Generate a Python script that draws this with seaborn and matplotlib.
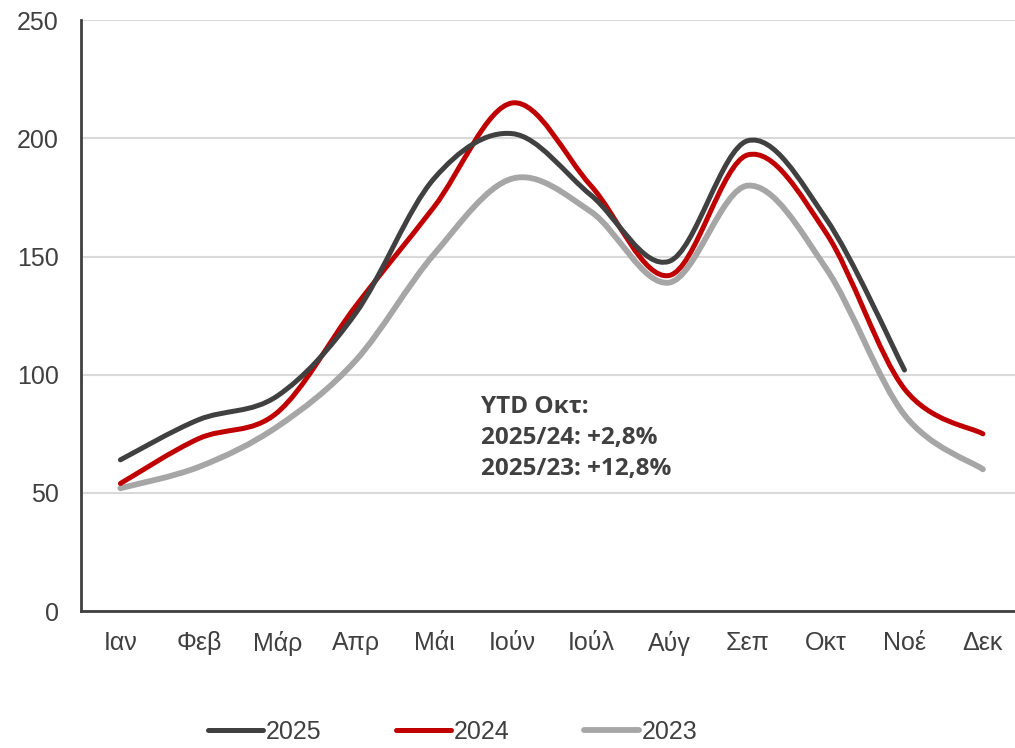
import numpy as np
import pandas as pd
import matplotlib
matplotlib.use("Agg")
import matplotlib.pyplot as plt
from matplotlib.path import Path
from matplotlib.patches import PathPatch
from matplotlib.lines import Line2D
import seaborn as sns

months = ["Ιαν", "Φεβ", "Μάρ", "Απρ", "Μάι", "Ιούν", "Ιούλ", "Αύγ", "Σεπ", "Οκτ", "Νοέ", "Δεκ"]
v2025 = [64, 81, 91, 126, 183, 202, 176, 148, 199, 166, 102]
v2024 = [54, 73, 84, 129, 171, 215, 180, 142, 193, 160, 94, 75]
v2023 = [52, 61, 78, 106, 151, 183, 169, 139, 180, 145, 83, 60]
years = ["2025", "2024", "2023"]
colors = {"2025": "#404040", "2024": "#C00000", "2023": "#A6A6A6"}
widths = {"2025": 3.6, "2024": 3.6, "2023": 4.2}
note = "YTD Οκτ:\n2025/24: +2,8%\n2025/23: +12,8%"

rows = []
for y, vals in zip(years, [v2025, v2024, v2023]):
    for m, v in zip(months, vals):
        rows.append({"year": y, "month": m, "value": v})
df = pd.DataFrame(rows)
df["pos"] = df["month"].map({m: i for i, m in enumerate(months)})

sns.set_theme(style="white")
plt.rcParams["font.family"] = ["Liberation Sans", "DejaVu Sans"]
txt = "#404040"

fig = plt.figure(figsize=(10.15, 7.48), dpi=100)
ax = fig.add_axes([0.08, 0.183, 0.927, 0.79])


def smooth_path(x, y):
    # excel-like smoothed line: cubic bezier through every point
    x = np.asarray(x, float)
    y = np.asarray(y, float)
    px = np.concatenate([[x[0]], x, [x[-1]]])
    py = np.concatenate([[y[0]], y, [y[-1]]])
    verts = [(x[0], y[0])]
    codes = [Path.MOVETO]
    for i in range(1, len(x)):
        c1 = (px[i] + (px[i + 1] - px[i - 1]) / 6, py[i] + (py[i + 1] - py[i - 1]) / 6)
        c2 = (px[i + 1] - (px[i + 2] - px[i]) / 6, py[i + 1] - (py[i + 2] - py[i]) / 6)
        verts += [c1, c2, (x[i], y[i])]
        codes += [Path.CURVE4] * 3
    return Path(verts, codes)


for y in ["2023", "2024", "2025"]:
    d = df[df["year"] == y]
    ax.add_patch(PathPatch(smooth_path(d["pos"], d["value"]), fill=False,
                           edgecolor=colors[y], lw=widths[y], capstyle="round",
                           joinstyle="round", zorder=3))

ax.set_xlim(-0.5, 11.5)
ax.set_ylim(0, 250)
ax.set_xticks(range(len(months)))
ax.set_xticklabels(months)
ax.set_yticks([0, 50, 100, 150, 200, 250])
ax.yaxis.grid(True, color="#d9d9d9", lw=1.5)
ax.set_axisbelow(True)
for s in ["top", "right"]:
    ax.spines[s].set_visible(False)
for s in ["left", "bottom"]:
    ax.spines[s].set_color(txt)
    ax.spines[s].set_linewidth(2)
ax.tick_params(axis="both", length=0, labelsize=18, colors=txt)
ax.tick_params(axis="x", pad=14)
ax.tick_params(axis="y", pad=16)

ax.text(4.6, 91.5, note, ha="left", va="top", fontsize=17.5, fontweight="bold",
        color=txt, family=["Open Sans", "DejaVu Sans"], linespacing=1.4, zorder=4,
        bbox=dict(facecolor="white", edgecolor="none", pad=4))

handles = [Line2D([], [], color=colors[y], lw=widths[y], solid_capstyle="round") for y in years]
fig.legend(handles, years, loc="center", bbox_to_anchor=(0.446, 0.022), ncol=3,
           frameon=False, fontsize=18, handlelength=2.2, handletextpad=0.1,
           columnspacing=3.0, labelcolor=txt, borderpad=0.1)

fig.savefig("out.png", dpi=100)
